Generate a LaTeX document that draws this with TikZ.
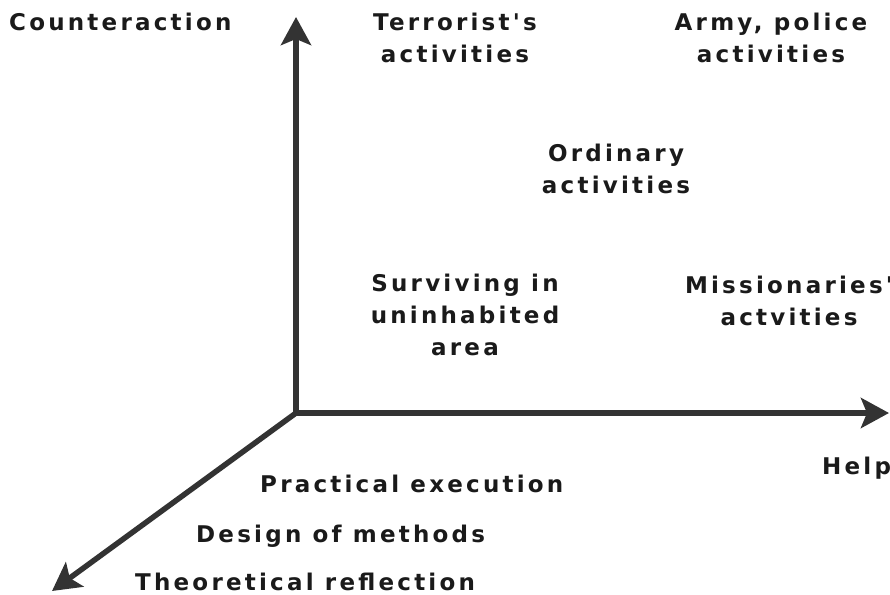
\documentclass[tikz,border=0pt]{standalone}
\usepackage{fontspec}
\setmainfont{DejaVu Sans}[LetterSpace=14, Ligatures=TeXOff]
\usetikzlibrary{arrows.meta}
\definecolor{axisgray}{HTML}{333333}
\definecolor{txt}{HTML}{1A1A1A}
\tikzset{
  axis/.style={draw=axisgray, line width=5.5pt, -{Stealth[length=28pt,width=30pt,inset=6pt]}},
  lbl/.style={font=\fontsize{23}{32}\selectfont\bfseries, text=txt, inner sep=0pt, align=center, anchor=base},
  lblw/.style={lbl, anchor=base west, align=left}
}
\begin{document}
\begin{tikzpicture}[x=1pt,y=-1pt]
\useasboundingbox (0,0) rectangle (890,594);
\coordinate (O) at (296,413);
\coordinate (up) at (296,17);
\coordinate (right) at (889,413);
\coordinate (dl) at (52,591);
\draw[axis] (O) -- (up);
\draw[axis] (O) -- (right);
\draw[axis] (O) -- (dl);
\draw[draw=axisgray, line width=5.5pt, line join=miter] (296,380) -- (O) -- (330,413);
\node[lblw] (counter) at (9,31) {Counteraction};
\node[lbl] (terror) at (455,63) {Terrorist's\\activities};
\node[lbl] (army) at (771,63) {Army, police\\activities};
\node[lbl] (ordinary) at (616,193) {Ordinary\\activities};
\node[lbl] (surviving) at (465,355) {Surviving in\\uninhabited\\area};
\node[lbl] (mission) at (789,325) {Missionaries'\\actvities};
\node[lblw] (help) at (822,474) {Help};
\node[lblw] (practical) at (260,492) {Practical execution};
\node[lblw] (design) at (196,542) {Design of methods};
\node[lblw] (theory) at (135,590) {Theoretical reflection};
\end{tikzpicture}
\end{document}
